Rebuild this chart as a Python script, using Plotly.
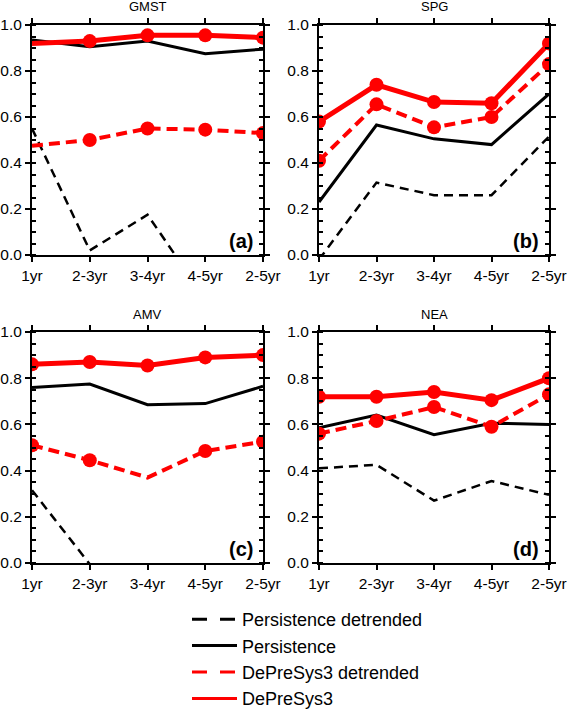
import plotly.graph_objects as go

categories = ["1yr", "2-3yr", "3-4yr", "4-5yr", "2-5yr"]
y_ticks = [0.0, 0.2, 0.4, 0.6, 0.8, 1.0]
y_tick_labels = ["0.0", "0.2", "0.4", "0.6", "0.8", "1.0"]

panel_titles = ["GMST", "SPG", "AMV", "NEA"]
panel_labels = ["(a)", "(b)", "(c)", "(d)"]

# Persistence detrended
gmst_pers_det = [0.55, 0.02, 0.175, -0.19, -0.2]
spg_pers_det = [-0.02, 0.315, 0.26, 0.26, 0.515]
amv_pers_det = [0.315, -0.005, -0.15, -0.3, -0.25]
nea_pers_det = [0.41, 0.425, 0.27, 0.355, 0.295]

# Persistence
gmst_pers = [0.935, 0.905, 0.93, 0.875, 0.895]
spg_pers = [0.23, 0.565, 0.505, 0.48, 0.70]
amv_pers = [0.76, 0.775, 0.685, 0.69, 0.765]
nea_pers = [0.585, 0.64, 0.555, 0.605, 0.60]

# DePreSys3 detrended
gmst_dps_det = [0.475, 0.50, 0.55, 0.545, 0.53]
spg_dps_det = [0.41, 0.655, 0.555, 0.60, 0.83]
amv_dps_det = [0.51, 0.445, 0.37, 0.485, 0.525]
nea_dps_det = [0.56, 0.615, 0.675, 0.59, 0.73]

# DePreSys3
gmst_dps = [0.92, 0.93, 0.955, 0.955, 0.945]
spg_dps = [0.58, 0.74, 0.665, 0.66, 0.92]
amv_dps = [0.86, 0.87, 0.855, 0.89, 0.90]
nea_dps = [0.72, 0.72, 0.74, 0.705, 0.80]

# Significance flags (marker shown)
gmst_dps_det_sig = [0, 1, 1, 1, 1]
spg_dps_det_sig = [1, 1, 1, 1, 1]
amv_dps_det_sig = [1, 1, 0, 1, 1]
nea_dps_det_sig = [1, 1, 1, 1, 1]
gmst_dps_sig = [0, 1, 1, 1, 1]
spg_dps_sig = [1, 1, 1, 1, 1]
amv_dps_sig = [1, 1, 1, 1, 1]
nea_dps_sig = [1, 1, 1, 1, 1]

panels = [
    (gmst_pers_det, gmst_pers, gmst_dps_det, gmst_dps, gmst_dps_det_sig, gmst_dps_sig),
    (spg_pers_det, spg_pers, spg_dps_det, spg_dps, spg_dps_det_sig, spg_dps_sig),
    (amv_pers_det, amv_pers, amv_dps_det, amv_dps, amv_dps_det_sig, amv_dps_sig),
    (nea_pers_det, nea_pers, nea_dps_det, nea_dps, nea_dps_det_sig, nea_dps_sig),
]

W, H = 567, 709
FONT = "Liberation Sans, Arial, Helvetica, sans-serif"

# panel pixel boxes (left, right, top, bottom)
boxes = [
    (32, 263, 25, 255),
    (319, 549, 25, 255),
    (32, 263, 332, 563),
    (319, 549, 332, 563),
]

fig = go.Figure()
xs = list(range(len(categories)))
MS = 14

black_dash = "9px,6px"
red_dash = "11px,6px"

for i, (pd_, p_, dd_, d_, dsig, ssig) in enumerate(panels):
    xa = "x" if i == 0 else f"x{i+1}"
    ya = "y" if i == 0 else f"y{i+1}"
    fig.add_trace(go.Scatter(x=xs, y=pd_, mode="lines", xaxis=xa, yaxis=ya,
                             line=dict(color="black", width=2.5, dash=black_dash),
                             showlegend=False, hoverinfo="skip"))
    fig.add_trace(go.Scatter(x=xs, y=p_, mode="lines", xaxis=xa, yaxis=ya,
                             line=dict(color="black", width=3),
                             showlegend=False, hoverinfo="skip"))
    fig.add_trace(go.Scatter(x=xs, y=dd_, mode="lines+markers", xaxis=xa, yaxis=ya,
                             line=dict(color="red", width=4, dash=red_dash),
                             marker=dict(color="red", opacity=1, line=dict(width=0),
                                         size=[MS * s for s in dsig]),
                             showlegend=False, hoverinfo="skip"))
    fig.add_trace(go.Scatter(x=xs, y=d_, mode="lines+markers", xaxis=xa, yaxis=ya,
                             line=dict(color="red", width=5),
                             marker=dict(color="red", opacity=1, line=dict(width=0),
                                         size=[MS * s for s in ssig]),
                             showlegend=False, hoverinfo="skip"))

    l, r, t, b = boxes[i]
    axis_common = dict(showline=True, linecolor="black", linewidth=2, mirror="allticks",
                       showgrid=False, zeroline=False, ticks="outside", ticklen=5,
                       tickwidth=2, tickcolor="black", automargin=False,
                       ticklabeloverflow="allow",
                       tickfont=dict(family=FONT, size=15.5, color="black"))
    fig.update_layout(**{
        ("xaxis" if i == 0 else f"xaxis{i+1}"): dict(
            domain=[l / W, r / W], anchor=ya, range=[0, 4],
            tickvals=xs, ticktext=categories, **axis_common),
        ("yaxis" if i == 0 else f"yaxis{i+1}"): dict(
            domain=[1 - b / H, 1 - t / H], anchor=xa, range=[0, 1],
            tickvals=y_ticks, ticktext=y_tick_labels,
            minor=dict(dtick=0.05, ticks="inside", ticklen=4, tickwidth=1.5, tickcolor="black"),
            **axis_common),
    })
    fig.add_annotation(text=panel_titles[i], x=(l + r) / 2 / W, y=1 - (t - 18) / H,
                       xref="paper", yref="paper", showarrow=False,
                       font=dict(family=FONT, size=13, color="black"),
                       xanchor="center", yanchor="middle")
    fig.add_annotation(text="<b>" + panel_labels[i] + "</b>", x=(r - 8) / W, y=1 - (b - 14) / H,
                       xref="paper", yref="paper", showarrow=False,
                       font=dict(family=FONT, size=20, color="black"),
                       xanchor="right", yanchor="middle")

legend_names = ["Persistence detrended", "Persistence", "DePreSys3 detrended", "DePreSys3"]
legend_styles = [
    dict(color="black", width=3, dash="15px,13px"),
    dict(color="black", width=3),
    dict(color="red", width=3, dash="15px,13px"),
    dict(color="red", width=3),
]
for name, st in zip(legend_names, legend_styles):
    fig.add_trace(go.Scatter(x=[None], y=[None], mode="lines", name=name, line=st,
                             showlegend=True))

fig.update_layout(
    width=W, height=H,
    margin=dict(l=0, r=0, t=0, b=0, autoexpand=False),
    paper_bgcolor="white", plot_bgcolor="white",
    hovermode=False,
    legend=dict(x=187 / W, y=1 - 601 / H, xanchor="left", yanchor="top",
                font=dict(family=FONT, size=18, color="black"),
                bgcolor="rgba(0,0,0,0)", tracegroupgap=0, itemwidth=45),
)

fig.write_html("out.html", config={"displayModeBar": False},
               post_script="document.body.style.margin='0';document.body.style.overflow='hidden';")
